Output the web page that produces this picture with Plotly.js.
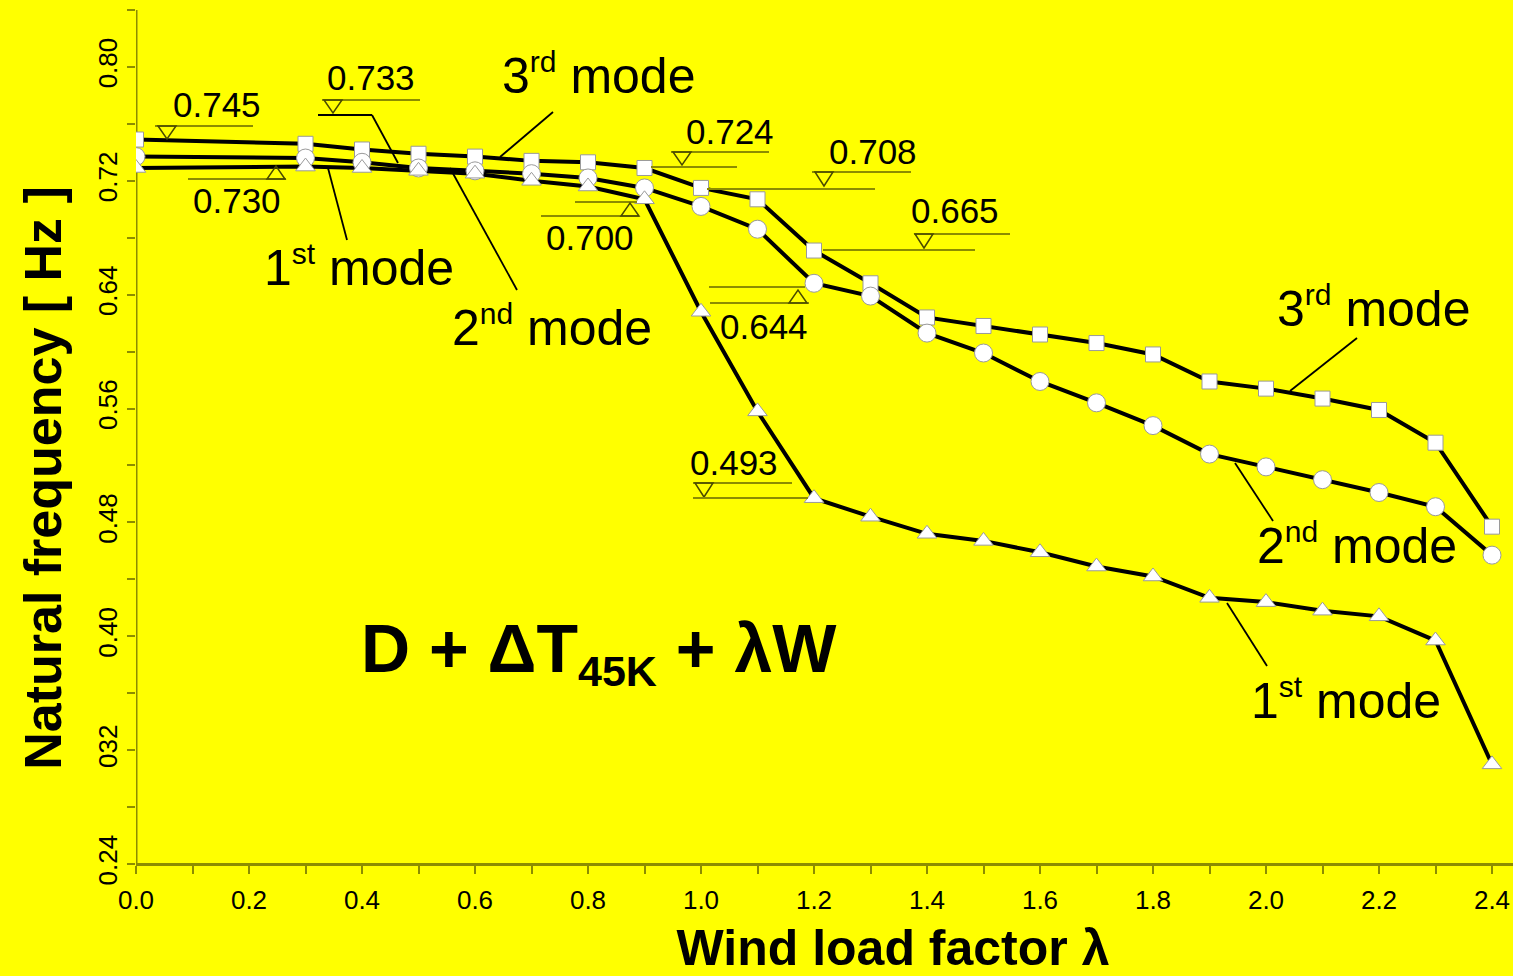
<!DOCTYPE html>
<html><head><meta charset="utf-8">
<script src="https://cdn.plot.ly/plotly-3.0.1.min.js"></script>
<style>html,body{margin:0;padding:0;background:#ffff00;overflow:hidden;width:1513px;height:976px}</style>
</head><body><div id="chart" style="width:1650px;height:976px"></div>
<script>
// ---- data ----
const lambdaVals = [0.0,0.3,0.4,0.5,0.6,0.7,0.8,0.9,1.0,1.1,1.2,1.3,1.4,1.5,1.6,1.7,1.8,1.9,2.0,2.1,2.2,2.3,2.4];
const mode1 = [0.729,0.730,0.729,0.727,0.725,0.720,0.716,0.707,0.628,0.558,0.497,0.484,0.472,0.467,0.459,0.449,0.442,0.427,0.424,0.418,0.414,0.397,0.310];
const mode2 = [0.737,0.736,0.733,0.729,0.727,0.725,0.722,0.715,0.702,0.686,0.648,0.639,0.613,0.599,0.579,0.564,0.548,0.528,0.519,0.510,0.501,0.491,0.457];
const mode3 = [0.749,0.746,0.742,0.739,0.737,0.734,0.733,0.729,0.715,0.707,0.671,0.648,0.624,0.618,0.612,0.606,0.598,0.579,0.574,0.567,0.559,0.536,0.477];
const yTickVals = [0.24,0.32,0.40,0.48,0.56,0.64,0.72,0.80];
const yTickText = ['0.24','032','0.40','0.48','0.56','0.64','0.72','0.80'];
const yMinorVals = [0.28,0.36,0.44,0.52,0.60,0.68,0.76,0.84];
const xTickVals = [0,0.2,0.4,0.6,0.8,1.0,1.2,1.4,1.6,1.8,2.0,2.2,2.4];
const xTickText = ['0.0','0.2','0.4','0.6','0.8','1.0','1.2','1.4','1.6','1.8','2.0','2.2','2.4'];
const xMinorVals = [0.1,0.3,0.5,0.7,0.9,1.1,1.3,1.5,1.7,1.9,2.1,2.3];
const levelLabels = ['0.745','0.733','0.730','0.700','0.724','0.708','0.665','0.644','0.493'];
const modeNames = ['1<sup><span style="font-size:30px">st</span></sup> mode',
                   '2<sup><span style="font-size:30px">nd</span></sup> mode',
                   '3<sup><span style="font-size:30px">rd</span></sup> mode'];
const caseLabel = 'D + ΔT<sub><span style="font-size:43px">45K</span></sub> + λW';

// ---- geometry (pixel -> data) ----
const FIG_W = 1650, FIG_H = 976;
const M = {l:136, r:0, t:10, b:30};
const PX_PER_X = 565;
const xMax = (FIG_W - M.l - M.r) / PX_PER_X;
const AXIS_PY = 864;            // pixel row of the x axis
const Y_TOP = 0.84, Y_AXIS = 0.24;
const PX_PER_Y = (AXIS_PY - M.t) / (Y_TOP - Y_AXIS);
const plotH = FIG_H - M.t - M.b;
const yLow = Y_TOP - plotH / PX_PER_Y;
const X = px => (px - M.l) / PX_PER_X;
const Y = py => Y_TOP - (py - M.t) / PX_PER_Y;

const FONT = 'Liberation Sans, Arial, Helvetica, sans-serif';
const OLIVE = '#8c8c00';
const TRI = '#4a4a00';

const shapes = [];
// y axis line (stops at the x axis)
shapes.push({type:'line',xref:'x',yref:'y',x0:0,x1:0,y0:Y_AXIS,y1:Y_TOP,layer:'below',line:{color:OLIVE,width:3}});
function seg(x0,y0,x1,y1,color,w){
  shapes.push({type:'line',xref:'x',yref:'y',x0:X(x0),y0:Y(y0),x1:X(x1),y1:Y(y1),line:{color:color,width:w}});
}
function tri(cx,base,apex){
  const hw = 9;
  const p = 'M'+X(cx-hw)+','+Y(base)+' L'+X(cx+hw)+','+Y(base)+' L'+X(cx)+','+Y(apex)+' Z';
  shapes.push({type:'path',xref:'x',yref:'y',path:p,line:{color:TRI,width:1.5},fillcolor:'rgba(0,0,0,0)'});
}
// level marks
seg(155,126,253,126,OLIVE,2); tri(167,126,139);
seg(322,100,420,100,OLIVE,2); tri(333,100,113);
seg(188,179,286,179,OLIVE,2); tri(276,179,166);
seg(575,202,637,202,OLIVE,2); seg(541,216,639,216,OLIVE,2); tri(630,216,203);
seg(671,152,769,152,OLIVE,2); tri(682,152,165); seg(651,167,737,167,OLIVE,2);
seg(812,172,911,172,OLIVE,2); tri(824,172,186); seg(707,189,875,189,OLIVE,2);
seg(914,234,1010,234,OLIVE,2); tri(924,234,248); seg(823,250,975,250,OLIVE,2);
seg(709,287,805,287,OLIVE,2); seg(710,303,809,303,OLIVE,2); tri(798,303,290);
seg(693,483,792,483,OLIVE,2); tri(704,483,497); seg(693,498,808,498,OLIVE,2);
// black leaders
const LK = '#000000';
seg(318,115,372,115,LK,1.8); seg(372,115,398,163,LK,1.8);
seg(553,112,500,157,LK,1.8);
seg(347,240,328,168,LK,1.8);
seg(517,290,450,168,LK,1.8);
seg(1357,338,1290,391,LK,1.8);
seg(1235,463,1273,521,LK,1.8);
seg(1227,603,1267,666,LK,1.8);

const annotations = [];
function txt(t,cx,cy,size,weight){
  annotations.push({text:t,xref:'x',yref:'y',x:X(cx),y:Y(cy),xanchor:'center',yanchor:'middle',
    showarrow:false,font:{family:FONT,size:size,color:'#000',weight:weight||400}});
}
const levelPos = [[217,104],[371,77],[237,200],[590,237],[730,131],[873,151],[955,210],[764,326],[734,462]];
levelLabels.forEach((t,i)=>txt(t,levelPos[i][0],levelPos[i][1],35));
txt(modeNames[2],598,74,50);
txt(modeNames[0],359,266,50);
txt(modeNames[1],552,326,50);
txt(modeNames[2],1373,307,50);
txt(modeNames[1],1357,544,50);
txt(modeNames[0],1346,699,50);
txt(caseLabel,599,652,68,700);

const series = [
  {y:mode3, sym:'square', size:15},
  {y:mode2, sym:'circle', size:18},
  {y:mode1, sym:'triangle-up', size:17}
];
const traces = [];
series.forEach(s=>traces.push({x:lambdaVals,y:s.y,type:'scatter',mode:'lines',line:{color:'#000',width:4},hoverinfo:'skip'}));
series.forEach(s=>traces.push({x:lambdaVals,y:s.y,type:'scatter',mode:'markers',
  marker:{symbol:s.sym,size:s.size,color:'#ffffff',line:{color:'#9a9a9a',width:1}},hoverinfo:'skip'}));

const tickStyle = {ticks:'outside',ticklen:8,tickwidth:2,tickcolor:OLIVE};
const layout = {
  width:FIG_W,height:FIG_H,margin:M,showlegend:false,
  paper_bgcolor:'#ffff00',plot_bgcolor:'#ffff00',
  font:{family:FONT,color:'#000'},
  xaxis:Object.assign({range:[0,xMax],tickvals:xTickVals,ticktext:xTickText,
    minor:Object.assign({tickvals:xMinorVals},tickStyle),
    anchor:'free',position:(FIG_H-M.b-AXIS_PY)/plotH,
    showline:true,linecolor:OLIVE,linewidth:3,showgrid:false,zeroline:false,tickfont:{size:26,family:FONT},
    ticklabelstandoff:4,
    title:{text:'Wind load factor λ',font:{size:50,family:FONT,weight:700},standoff:16}},tickStyle),
  yaxis:Object.assign({range:[yLow,Y_TOP],tickvals:yTickVals,ticktext:yTickText,
    minor:Object.assign({tickvals:yMinorVals},tickStyle),
    showline:false,showgrid:false,zeroline:false,tickfont:{size:26,family:FONT},tickangle:-90,
    title:{text:'Natural frequency [ Hz ]',font:{size:52,family:FONT,weight:700},standoff:14}},tickStyle),
  shapes:shapes,annotations:annotations
};
Plotly.newPlot('chart',traces,layout,{staticPlot:true,displayModeBar:false});
</script></body></html>
